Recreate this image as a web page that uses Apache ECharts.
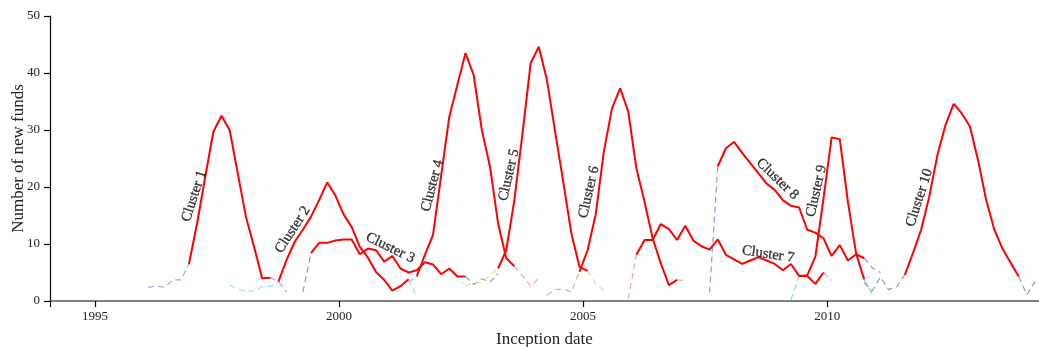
<!DOCTYPE html>
<html>
<head>
<meta charset="utf-8">
<script src="https://cdn.jsdelivr.net/npm/echarts/dist/echarts.min.js"></script>
<style>
  html, body { margin: 0; padding: 0; background: #fff; }
  #main { width: 1039px; height: 347px; }
</style>
</head>
<body>
<div id="main"></div>
<script>
// bimonthly periods, period 0 = Dec 1996
var firstPeriod = 1996.925;
var periodsPerYear = 6;

var clusterNames = ["Cluster 1", "Cluster 2", "Cluster 3", "Cluster 4", "Cluster 5",
  "Cluster 6", "Cluster 7", "Cluster 8", "Cluster 9", "Cluster 10"];

// first period of each solid (red) part
var coreStart = [0, 11, 15, 28, 38, 48, 55, 65, 75, 88];
var coreValues = [
  [6.5, 13.6, 21.8, 29.7, 32.5, 30.0, 22.4, 14.8, 9.5, 4.0, 4.1],
  [3.4, 7.2, 10.4, 12.5, 14.8, 17.7, 20.8, 18.5, 15.2, 13.0, 9.5, 7.6, 5.1, 3.7, 1.8, 2.6, 3.8],
  [8.4, 10.2, 10.2, 10.6, 10.8, 10.8, 8.2, 9.2, 8.9, 6.9, 7.9, 5.7, 5.0, 5.4, 6.8, 6.4, 4.7, 5.7, 4.3, 4.3],
  [4.3, 8.1, 11.6, 22.0, 32.3, 38.0, 43.5, 39.6, 30.0, 23.6, 13.6, 7.5, 6.1],
  [5.7, 8.9, 17.7, 29.4, 41.7, 44.6, 38.8, 29.8, 21.0, 11.9, 6.0, 5.3],
  [5.1, 8.9, 15.2, 26.2, 33.8, 37.3, 33.2, 23.3, 17.4, 11.0, 6.6, 2.8, 3.7],
  [8.1, 10.7, 10.7, 13.5, 12.6, 10.7, 13.2, 10.6, 9.6, 9.0, 10.8, 8.1, 7.3, 6.5, 7.1, 7.7, 7.1, 6.5, 5.4, 6.5, 4.4, 4.4, 3.0, 5.0],
  [23.6, 26.8, 27.9, 26.0, 24.2, 22.4, 20.6, 19.5, 17.7, 16.7, 16.4, 12.5, 12.0, 11.0, 7.9, 9.8, 7.1, 8.2, 7.5],
  [4.4, 4.5, 7.8, 18.0, 28.7, 28.4, 17.4, 8.4, 3.8],
  [4.6, 8.4, 12.5, 18.3, 25.6, 30.9, 34.6, 32.9, 30.6, 24.7, 17.7, 12.5, 9.2, 6.7, 4.3]
];

// dashed lead-in before each cluster (ends on its first red point)
var leadInStart = [-5, 5, 14, 27, 34, 44, 54, 64, 74, 83];
var leadInValues = [
  [2.4, 2.6, 2.4, 3.7, 3.7, 6.5],
  [2.8, 2.1, 1.7, 1.8, 2.5, 2.6, 3.4],
  [1.6, 8.4],
  [3.3, 4.3],
  [2.7, 3.2, 3.2, 4.5, 5.7],
  [1.0, 2.0, 2.1, 1.6, 5.1],
  [0.4, 8.1],
  [1.5, 23.6],
  [0.2, 4.4],
  [3.2, 1.8, 4.2, 2.0, 2.5, 4.6]
];

// dashed lead-out after each cluster (starts on its last red point)
var leadOutValues = [
  [4.1, 3.4, 1.6],
  [3.8, 0.8],
  [4.3, 2.9, 3.9, 3.3, 4.8],
  [6.1, 4.4, 2.6, 4.0],
  [5.3, 3.0, 1.9],
  [3.7, 3.6],
  [5.0, 3.6],
  [7.5, 5.8, 5.0],
  [3.8, 1.2],
  [4.3, 1.1, 3.4]
];

var xTicks = [1995, 2000, 2005, 2010];

var tailColors = ["#a3a3ff", "#8fe3e3", "#9b9b9b", "#ffa3a3", "#e0e08c",
  "#9fd09f", "#e0a0ee", "#8f8fff", "#74dcdc", "#9b9b9b"];

// where the cluster names sit (year, value, rotation)
var labelSpots = [
  [1997.03, 18.4, 72], [1999.05, 12.5, 57], [2001.05, 9.3, -26], [2001.91, 20.2, 75],
  [2003.48, 22.1, 77], [2005.12, 19.1, 77], [2008.79, 8.2, -9], [2008.98, 21.4, -44],
  [2009.78, 19.3, 77], [2011.89, 18.1, 72]
];

var font = "Liberation Serif";

function toPoints(from, values) {
  return values.map(function (v, i) {
    return [firstPeriod + (from + i) / periodsPerYear, v];
  });
}

var series = [];
clusterNames.forEach(function (name, i) {
  var dashed = { color: tailColors[i], width: 1.2, type: [6, 4] };
  series.push({
    type: "line", symbol: "none", silent: true, z: 1,
    data: toPoints(leadInStart[i], leadInValues[i]),
    lineStyle: dashed
  });
  series.push({
    type: "line", symbol: "none", silent: true, z: 1,
    data: toPoints(coreStart[i] + coreValues[i].length - 1, leadOutValues[i]),
    lineStyle: dashed
  });
  series.push({
    name: name, type: "line", symbol: "none", silent: true, z: 3,
    data: toPoints(coreStart[i], coreValues[i]),
    lineStyle: { color: "#ff0000", width: 2 }
  });
});

// cluster names
series.push({
  type: "scatter", symbolSize: 0, silent: true, z: 5,
  data: labelSpots.map(function (s, i) {
    return {
      value: [s[0], s[1]],
      label: { show: true, formatter: clusterNames[i], rotate: s[2] }
    };
  }),
  label: {
    position: "inside", color: "#000", fontFamily: font, fontSize: 14.5,
    textBorderColor: "#000", textBorderWidth: 0.3
  }
});

var chart = echarts.init(document.getElementById("main"));
chart.setOption({
  animation: false,
  grid: { left: 50, right: 0, top: 16, bottom: 46, containLabel: false, outerBoundsMode: "none" },
  xAxis: {
    type: "value",
    min: 1994.078,
    max: 2014.34,
    name: "Inception date",
    nameLocation: "middle",
    nameGap: 30,
    nameTextStyle: { fontFamily: font, fontSize: 17, color: "#222" },
    axisLine: { lineStyle: { color: "#555", width: 1.6 } },
    axisTick: { customValues: [1994.078].concat(xTicks), length: 6, lineStyle: { color: "#000", width: 1.2 } },
    axisLabel: {
      customValues: xTicks, margin: 9, fontFamily: font, fontSize: 13, color: "#222",
      formatter: function (v) { return String(Math.round(v)); }
    },
    splitLine: { show: false }
  },
  yAxis: {
    type: "value",
    min: 0,
    max: 50,
    interval: 10,
    name: "Number of new funds",
    nameLocation: "middle",
    nameGap: 23,
    nameMoveOverlap: false,
    nameTextStyle: { fontFamily: font, fontSize: 17, color: "#222" },
    axisLine: { show: true, lineStyle: { color: "#000", width: 1.2 } },
    axisTick: { show: true, length: 6, lineStyle: { color: "#000", width: 1.2 } },
    axisLabel: { margin: 10, fontFamily: font, fontSize: 13, color: "#222" },
    splitLine: { show: false }
  },
  series: series
});
</script>
</body>
</html>
